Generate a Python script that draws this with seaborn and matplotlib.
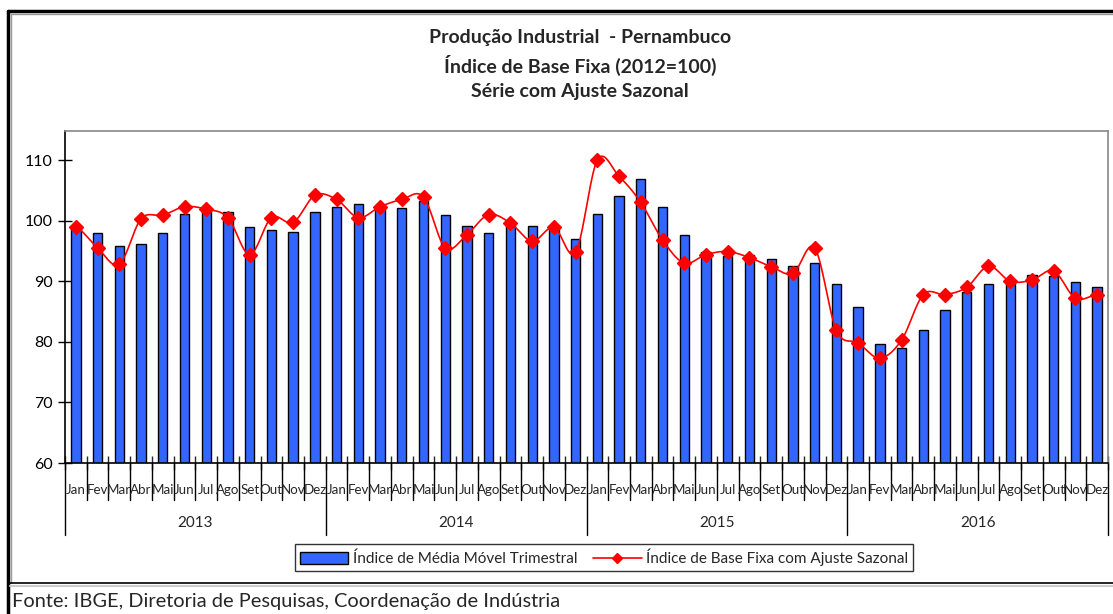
import numpy as np
import pandas as pd
import matplotlib
matplotlib.use('Agg')
import matplotlib.pyplot as plt
from matplotlib.lines import Line2D
from matplotlib.patches import Patch
import matplotlib.transforms as mtransforms
import seaborn as sns

anos = ['2013', '2014', '2015', '2016']
meses = ['Jan', 'Fev', 'Mar', 'Abr', 'Mai', 'Jun', 'Jul', 'Ago', 'Set', 'Out', 'Nov', 'Dez']

# Índice de Média Móvel Trimestral (barras)
media_movel = [
    99.0, 98.0, 95.8, 96.2, 98.0, 101.1, 101.7, 101.5, 98.9, 98.5, 98.2, 101.4,
    102.3, 102.7, 102.1, 102.1, 103.2, 100.9, 99.1, 98.0, 99.5, 99.1, 98.7, 96.9,
    101.1, 104.1, 106.8, 102.3, 97.6, 94.9, 94.2, 94.4, 93.7, 92.5, 93.0, 89.6,
    85.8, 79.7, 78.9, 81.9, 85.3, 88.3, 89.6, 90.0, 91.0, 90.8, 89.8, 89.0,
]

# Índice de Base Fixa com Ajuste Sazonal (linha)
ajuste_sazonal = [
    99.0, 95.5, 92.8, 100.3, 100.9, 102.3, 101.9, 100.5, 94.4, 100.5, 99.7, 104.2,
    103.5, 100.5, 102.3, 103.5, 103.9, 95.5, 97.7, 101.0, 99.6, 96.6, 98.9, 94.8,
    110.0, 107.3, 103.0, 96.8, 93.0, 94.4, 94.9, 93.9, 92.4, 91.3, 95.5, 81.9,
    79.8, 77.3, 80.3, 87.8, 87.8, 89.0, 92.5, 90.0, 90.2, 91.7, 87.2, 87.8,
]

azul = '#3366FF'
vermelho = '#FF0000'

sns.set_style('white')
plt.rcParams['font.family'] = ['Lato', 'DejaVu Sans']

W, H = 1113, 614
fig = plt.figure(figsize=(W / 100, H / 100), dpi=100)
ax = fig.add_axes([65 / W, 1 - 463 / H, (1108 - 65) / W, (463 - 131) / H])

n = len(media_movel)
idx = np.arange(n)
df = pd.DataFrame({'i': idx, 'bar': media_movel, 'linha': ajuste_sazonal})

sns.barplot(data=df, x='i', y='bar', color=azul, saturation=1, width=0.43,
            edgecolor='black', linewidth=1, ax=ax, zorder=2)

# linha suavizada (Catmull-Rom), como a "linha suavizada" do Excel
y = np.asarray(ajuste_sazonal, dtype=float)
yp = np.concatenate([[y[0]], y, [y[-1]]])
t = np.linspace(0, 1, 20)[:-1]
xs, ys = [], []
for k in range(n - 1):
    p0, p1, p2, p3 = yp[k], yp[k + 1], yp[k + 2], yp[k + 3]
    seg = 0.5 * ((2 * p1) + (-p0 + p2) * t + (2 * p0 - 5 * p1 + 4 * p2 - p3) * t ** 2
                 + (-p0 + 3 * p1 - 3 * p2 + p3) * t ** 3)
    xs.extend(k + t)
    ys.extend(seg)
xs.append(n - 1)
ys.append(y[-1])
sns.lineplot(x=xs, y=ys, color=vermelho, linewidth=1.2, ax=ax, zorder=3,
             estimator=None, sort=False)
ax.plot(idx, y, linestyle='none', marker='D', markersize=7, color=vermelho,
        markeredgecolor=vermelho, zorder=4)

ax.set_xlim(-0.5, n - 0.5)
ax.set_ylim(60, 114.8)
ax.set_yticks([60, 70, 80, 90, 100, 110])
ax.set_yticklabels(['60', '70', '80', '90', '100', '110'])
ax.tick_params(axis='y', direction='inout', length=10, width=1, colors='black',
               labelsize=11.5, pad=4, left=True)
ax.set_xticks(np.arange(-0.5, n, 1))
ax.set_xticklabels([])
ax.tick_params(axis='x', direction='inout', length=10, width=1, bottom=True)
ax.set_xlabel('')
ax.set_ylabel('')

for s in ['left', 'bottom']:
    ax.spines[s].set_color('black')
    ax.spines[s].set_linewidth(1.2)
for s in ['top', 'right']:
    ax.spines[s].set_color('#888888')
    ax.spines[s].set_linewidth(1.2)

# eixo de categorias em dois níveis
trans = mtransforms.blended_transform_factory(ax.transData, ax.transAxes)
ah = 463 - 131
for b in np.arange(-0.5, n, 1):
    fim = 535 if (b + 0.5) % 12 == 0 else 500
    ax.add_line(Line2D([b, b], [0, -(fim - 463) / ah], transform=trans,
                       color='black', linewidth=1, clip_on=False))
for i in range(n):
    ax.text(i, -(490 - 463) / ah, meses[i % 12], transform=trans, ha='center',
            va='center', fontsize=9.6, clip_on=False)
for j, a in enumerate(anos):
    ax.text(j * 12 + 5.5, -(523 - 463) / ah, a, transform=trans, ha='center',
            va='center', fontsize=11, clip_on=False)

# títulos
titulos = ['Produção Industrial  - Pernambuco', 'Índice de Base Fixa (2012=100)',
           'Série com Ajuste Sazonal']
for k, tt in enumerate(titulos):
    fig.text(580 / W, 1 - (38 + 27 * k) / H, tt, ha='center', va='center',
             fontsize=14, fontweight='bold')

# legenda
handles = [Patch(facecolor=azul, edgecolor='black', linewidth=1),
           Line2D([], [], color=vermelho, marker='D', markersize=5, linewidth=1.2)]
labels = ['Índice de Média Móvel Trimestral', 'Índice de Base Fixa com Ajuste Sazonal']
leg = fig.legend(handles, labels, loc='center', bbox_to_anchor=(604 / W, 1 - 557.5 / H),
                 ncol=2, fontsize=11, frameon=True, fancybox=False, shadow=False,
                 handlelength=3.2, handleheight=0.8, handletextpad=0.3,
                 columnspacing=1.0, borderpad=0.3, borderaxespad=0)
leg.get_frame().set_edgecolor('black')
leg.get_frame().set_linewidth(1)

# moldura da área do gráfico e rodapé
fig.add_artist(Line2D([8 / W, 1], [1 - 11 / H, 1 - 11 / H], color='black', linewidth=2.5))
fig.add_artist(Line2D([11 / W, 1], [1 - 14 / H, 1 - 14 / H], color='#999999', linewidth=1))
fig.add_artist(Line2D([8 / W, 8 / W], [0, 1 - 11 / H], color='black', linewidth=2.5))
fig.add_artist(Line2D([11 / W, 11 / W], [1 - 583 / H, 1 - 14 / H], color='#999999', linewidth=1))
fig.add_artist(Line2D([10 / W, 1], [1 - 583 / H, 1 - 583 / H], color='black', linewidth=1.2))
fig.add_artist(Line2D([10 / W, 1], [1 - 586 / H, 1 - 586 / H], color='#cccccc', linewidth=1.5))

fig.text(12 / W, 1 - 601 / H, 'Fonte: IBGE, Diretoria de Pesquisas, Coordenação de Indústria',
         ha='left', va='center', fontsize=14.4)

fig.savefig('out.png', dpi=100)
